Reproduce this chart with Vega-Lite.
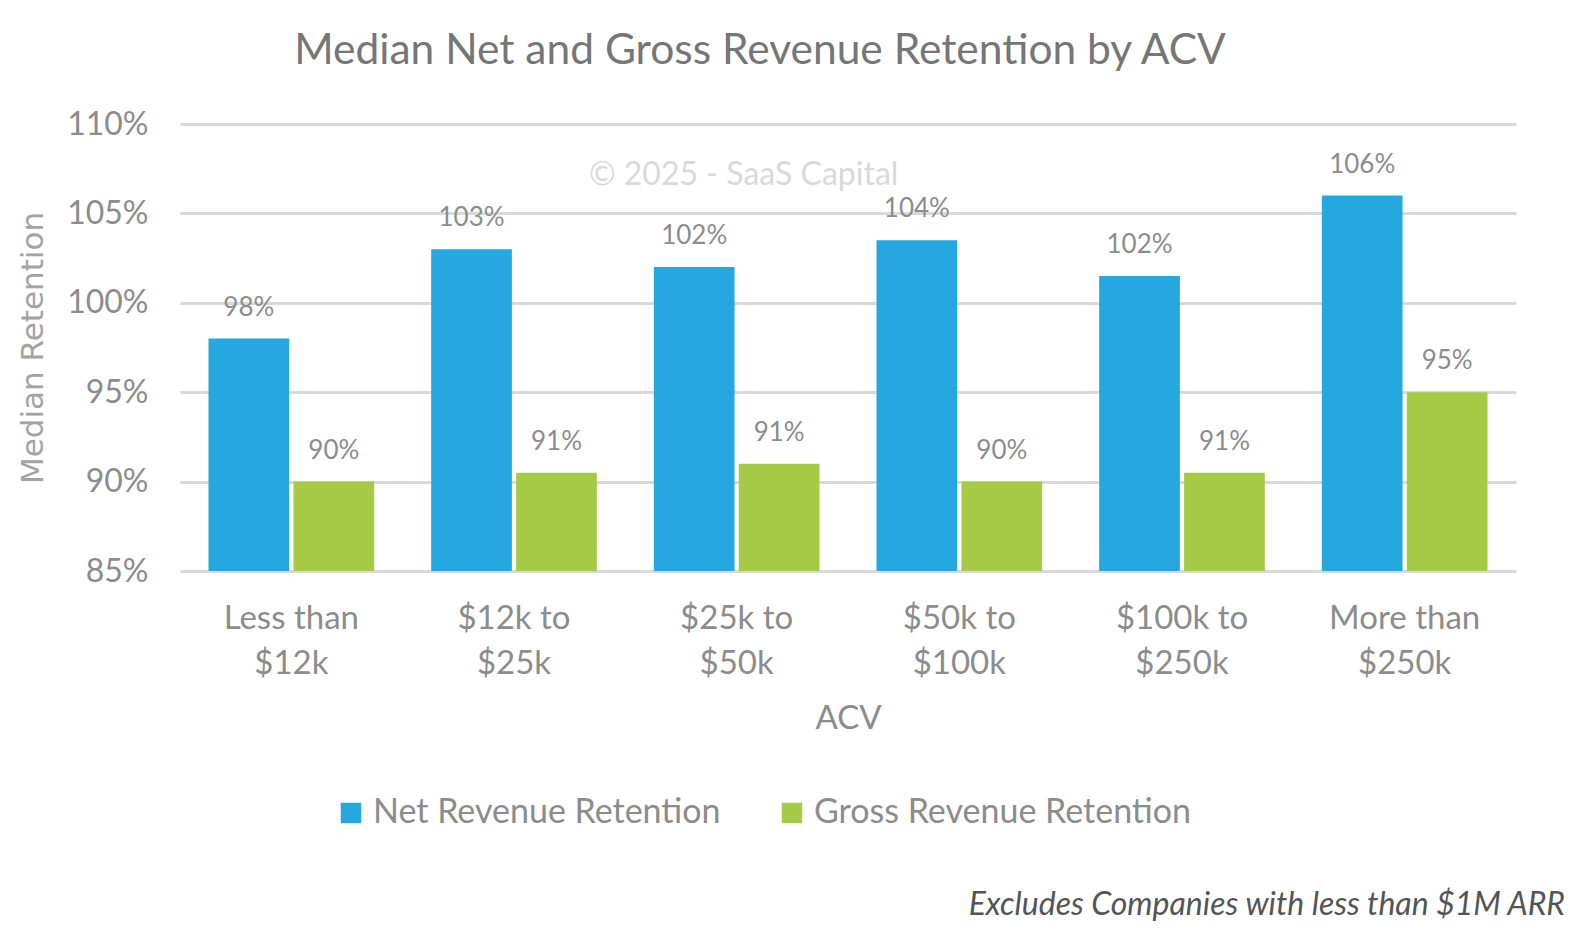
{
  "$schema": "https://vega.github.io/schema/vega-lite/v6.json",
  "background": "white",
  "padding": {"left": 17, "top": 29, "right": 10, "bottom": 0},
  "title": {
    "text": "Excludes Companies with less than $1M ARR",
    "orient": "bottom",
    "anchor": "end",
    "font": "Lato",
    "fontSize": 32,
    "fontStyle": "italic",
    "fontWeight": "normal",
    "color": "#555555",
    "offset": 60,
    "dx": 49
  },
  "resolve": {"legend": {"color": "independent"}},
  "vconcat": [
    {
      "width": 1336,
      "height": 447,
      "title": {
        "text": "Median Net and Gross Revenue Retention by ACV",
        "font": "Lato",
        "fontSize": 42.5,
        "fontWeight": "normal",
        "color": "#767676",
        "anchor": "middle",
        "dx": -88,
        "offset": 36
      },
      "data": {
        "values": [
          {"acv": "Less than $12k", "metric": "Net Revenue Retention", "value": 98},
          {"acv": "Less than $12k", "metric": "Gross Revenue Retention", "value": 90},
          {"acv": "$12k to $25k", "metric": "Net Revenue Retention", "value": 103},
          {"acv": "$12k to $25k", "metric": "Gross Revenue Retention", "value": 90.5},
          {"acv": "$25k to $50k", "metric": "Net Revenue Retention", "value": 102},
          {"acv": "$25k to $50k", "metric": "Gross Revenue Retention", "value": 91},
          {"acv": "$50k to $100k", "metric": "Net Revenue Retention", "value": 103.5},
          {"acv": "$50k to $100k", "metric": "Gross Revenue Retention", "value": 90},
          {"acv": "$100k to $250k", "metric": "Net Revenue Retention", "value": 101.5},
          {"acv": "$100k to $250k", "metric": "Gross Revenue Retention", "value": 90.5},
          {"acv": "More than $250k", "metric": "Net Revenue Retention", "value": 106},
          {"acv": "More than $250k", "metric": "Gross Revenue Retention", "value": 95}
        ]
      },
      "encoding": {
        "x": {
          "field": "acv",
          "type": "nominal",
          "sort": null,
          "scale": {"paddingInner": 0.256, "paddingOuter": 0.128},
          "axis": {
            "title": "ACV",
            "titleFont": "Lato",
            "titleFontSize": 33,
            "titleFontWeight": "normal",
            "titleColor": "#8c8c8c",
            "titlePadding": 22,
            "labelFont": "Lato",
            "labelFontSize": 33,
            "labelColor": "#8c8c8c",
            "labelAngle": 0,
            "labelPadding": 31,
            "labelLineHeight": 45,
            "labelExpr": "indexof(datum.value, ' to ') > 0 ? [slice(datum.value, 0, indexof(datum.value, ' to ')) + ' to', slice(datum.value, indexof(datum.value, ' to ') + 4)] : [slice(datum.value, 0, 9), slice(datum.value, 10)]",
            "domain": false,
            "ticks": false,
            "grid": false
          }
        },
        "y": {
          "field": "value",
          "type": "quantitative",
          "scale": {"domain": [85, 110], "nice": false, "zero": false},
          "axis": {
            "title": "Median Retention",
            "titleFont": "DejaVu Sans",
            "titleFontSize": 31,
            "titleFontWeight": "normal",
            "titleColor": "#a3a3a3",
            "titlePadding": 17,
            "labelFont": "Lato",
            "labelFontSize": 32,
            "labelColor": "#8c8c8c",
            "labelPadding": 32,
            "labelExpr": "datum.value + '%'",
            "values": [85, 90, 95, 100, 105, 110],
            "domain": false,
            "ticks": false,
            "grid": true,
            "gridColor": "#d9d9d9",
            "gridWidth": 3
          }
        }
      },
      "layer": [
        {
          "mark": {"type": "bar", "width": {"band": 1}},
          "encoding": {
            "xOffset": {
              "field": "metric",
              "type": "nominal",
              "scale": {"domain": ["Net Revenue Retention", "Gross Revenue Retention"], "paddingInner": 0.05, "paddingOuter": 0}
            },
            "y2": {"datum": 85},
            "color": {
              "field": "metric",
              "type": "nominal",
              "scale": {
                "domain": ["Net Revenue Retention", "Gross Revenue Retention"],
                "range": ["#25a7df", "#a6c946"]
              },
              "legend": {
                "title": null,
                "orient": "none",
                "direction": "horizontal",
                "legendX": 154,
                "legendY": 672,
                "symbolType": "square",
                "symbolSize": 420,
                "symbolStrokeWidth": 0,
                "symbolOpacity": 1,
                "labelFont": "Lato",
                "labelFontSize": 34,
                "labelColor": "#8c8c8c",
                "labelOffset": 5,
                "labelLimit": 500,
                "columnPadding": 54
              }
            }
          }
        },
        {
          "transform": [{"calculate": "format(datum.value, '.0f') + '%'", "as": "label"}],
          "mark": {"type": "text", "font": "Lato", "fontSize": 26, "color": "#8c8c8c", "baseline": "alphabetic", "dy": -23},
          "encoding": {
            "xOffset": {
              "field": "metric",
              "type": "nominal",
              "scale": {"domain": ["Net Revenue Retention", "Gross Revenue Retention"], "paddingInner": 0.05, "paddingOuter": 0}
            },
            "text": {"field": "label"}
          }
        },
        {
          "transform": [{"filter": "datum.acv == '$25k to $50k' && datum.metric == 'Net Revenue Retention'"}],
          "mark": {"type": "text", "font": "Lato", "fontSize": 32, "color": "#d9d9d9", "baseline": "alphabetic", "dx": 7},
          "encoding": {
            "y": {"datum": 106.6},
            "text": {"value": "© 2025 - SaaS Capital"}
          }
        }
      ]
    }
  ],
  "config": {
    "view": {"stroke": null},
    "font": "Lato"
  }
}
